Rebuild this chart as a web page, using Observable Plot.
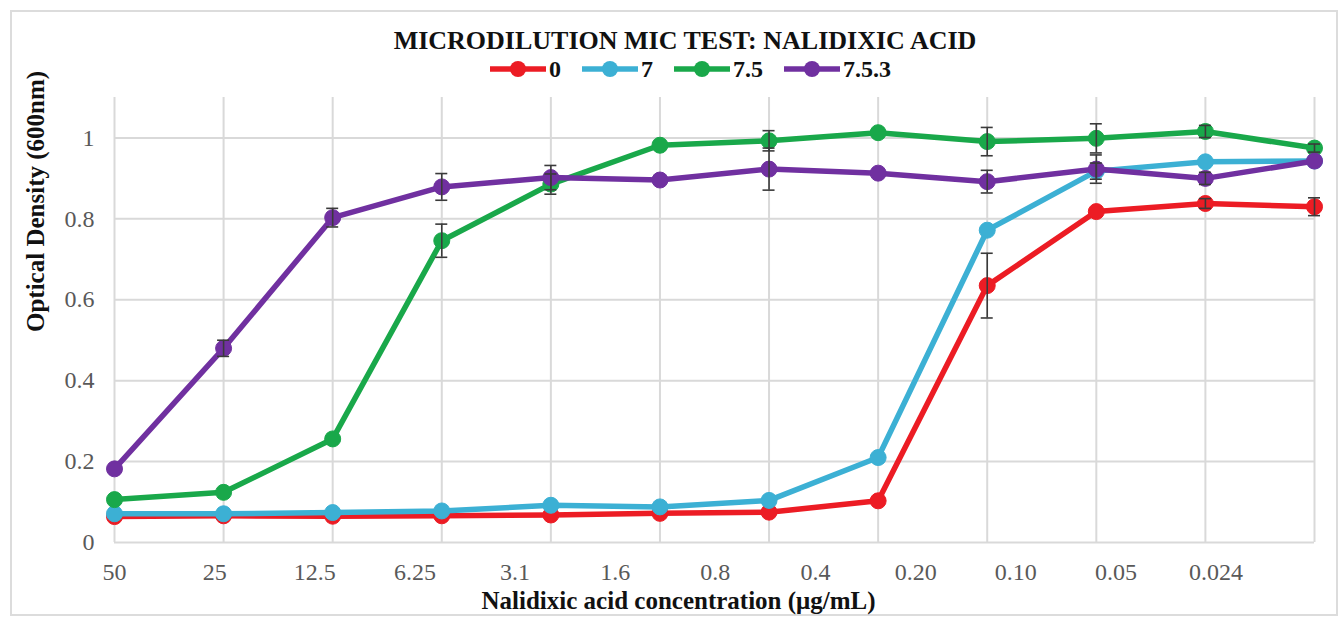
<!DOCTYPE html>
<html>
<head>
<meta charset="utf-8">
<script src="https://cdn.jsdelivr.net/npm/d3@7"></script>
<script src="https://cdn.jsdelivr.net/npm/@observablehq/plot@0.6"></script>
<style>
  html, body { margin: 0; padding: 0; background: #fff; }
  #wrap { position: relative; width: 1343px; height: 620px; overflow: hidden; font-family: "Liberation Serif", serif; }
  #frame { position: absolute; left: 10px; top: 10px; width: 1328px; height: 606px; border: 2px solid #dcdcdc; box-sizing: border-box; }
  #title { position: absolute; left: 0; top: 26px; width: 1370px; text-align: center; font-weight: bold; font-size: 26px; line-height: 30px; color: #111; }
  #legend { position: absolute; left: 0; top: 55px; width: 1380px; display: flex; justify-content: center; gap: 20px; font-weight: bold; font-size: 24px; line-height: 28px; color: #111; }
  .item { display: flex; align-items: center; gap: 2px; }
  #chart { position: absolute; left: 0; top: 0; }
</style>
</head>
<body>
<div id="wrap">
  <div id="frame"></div>
  <div id="chart"></div>
  <div id="title"></div>
  <div id="legend"></div>
</div>
<script>
// ---- data ----
const chartTitle = "MICRODILUTION MIC TEST: NALIDIXIC ACID";
const xTitle = "Nalidixic acid concentration (μg/mL)";
const yTitle = "Optical Density (600nm)";
const concLabels = ["50", "25", "12.5", "6.25", "3.1", "1.6", "0.8", "0.4", "0.20", "0.10", "0.05", "0.024"];
const seriesNames = ["0", "7", "7.5", "7.5.3"];
const seriesColors = ["#ec1c24", "#3cb0d4", "#19a84a", "#7030a0"];
const od0   = [0.064, 0.066, 0.065, 0.066, 0.068, 0.072, 0.075, 0.103, 0.635, 0.818, 0.838, 0.830];
const od7   = [0.071, 0.071, 0.074, 0.078, 0.092, 0.088, 0.104, 0.210, 0.772, 0.918, 0.941, 0.943];
const od75  = [0.106, 0.124, 0.256, 0.746, 0.886, 0.982, 0.993, 1.013, 0.991, 0.999, 1.016, 0.975];
const od753 = [0.182, 0.480, 0.803, 0.879, 0.902, 0.896, 0.923, 0.913, 0.892, 0.923, 0.900, 0.943];
const err0   = [0, 0, 0, 0, 0, 0, 0, 0.005, 0.080, 0.005, 0.012, 0.022];
const err7   = [0, 0, 0, 0, 0, 0, 0, 0.005, 0.005, 0.020, 0.005, 0.005];
const err75  = [0.005, 0.005, 0.005, 0.041, 0.025, 0.005, 0.025, 0.005, 0.035, 0.036, 0.015, 0.010];
const err753 = [0.005, 0.020, 0.023, 0.033, 0.030, 0.005, 0.052, 0.005, 0.028, 0.035, 0.015, 0.005];
const yTicks = [0, 0.2, 0.4, 0.6, 0.8, 1];

// ---- build ----
const values = [od0, od7, od75, od753];
const errs = [err0, err7, err75, err753];
const series = seriesNames.map((name, k) => ({
  name, color: seriesColors[k],
  rows: values[k].map((v, i) => ({ i, v, e: errs[k][i] }))
}));
const labelStep = 0.918; // category labels are spaced slightly tighter than the data points
const tickRows = concLabels.map((label, i) => ({ label, pos: i * labelStep }));
const capHalf = 0.055;

const marks = [
  Plot.gridY({ ticks: yTicks, stroke: "#d9d9d9", strokeOpacity: 1, strokeWidth: 2 }),
  Plot.gridX({ ticks: d3.range(concLabels.length), stroke: "#d9d9d9", strokeOpacity: 1, strokeWidth: 2 }),
  Plot.axisY({ ticks: yTicks, tickSize: 0, tickPadding: 20, tickFormat: d => String(d), label: null }),
  Plot.text(tickRows, { x: "pos", y: () => 0, text: "label", dy: 30, fill: "#595959", lineAnchor: "middle" }),
  Plot.text([yTitle], { frameAnchor: "left", rotate: -90, dx: -79, dy: 12, fontWeight: "bold", fontSize: 25, fill: "#111", lineAnchor: "middle" }),
  Plot.text([xTitle], { frameAnchor: "bottom", dx: -36, dy: 58, fontWeight: "bold", fontSize: 25, fill: "#111", lineAnchor: "middle" })
];
for (const s of series) {
  marks.push(Plot.line(s.rows, { x: "i", y: "v", stroke: s.color, strokeWidth: 5.5, strokeLinejoin: "round" }));
  marks.push(Plot.dot(s.rows, { x: "i", y: "v", r: 8, fill: s.color, stroke: s.color, strokeWidth: 1 }));
}
for (const s of series) {
  const eb = s.rows.filter(d => d.e > 0.009);
  marks.push(Plot.ruleX(eb, { x: "i", y1: d => d.v - d.e, y2: d => d.v + d.e, stroke: "#3a3a3a", strokeWidth: 1.6 }));
  marks.push(Plot.ruleY(eb, { y: d => d.v + d.e, x1: d => d.i - capHalf, x2: d => d.i + capHalf, stroke: "#3a3a3a", strokeWidth: 1.6 }));
  marks.push(Plot.ruleY(eb, { y: d => d.v - d.e, x1: d => d.i - capHalf, x2: d => d.i + capHalf, stroke: "#3a3a3a", strokeWidth: 1.6 }));
}

const chart = Plot.plot({
  width: 1343,
  height: 620,
  marginLeft: 114,
  marginRight: 29,
  marginTop: 97,
  marginBottom: 78,
  x: { type: "linear", domain: [0, concLabels.length - 1], axis: null },
  y: { domain: [0, 1.1], axis: null },
  style: { fontFamily: "Liberation Serif, serif", fontSize: "24px", color: "#595959", background: "transparent" },
  marks
});
document.getElementById("chart").appendChild(chart);

// ---- title & legend ----
document.getElementById("title").textContent = chartTitle;
const legend = document.getElementById("legend");
for (const s of series) {
  const item = document.createElement("div");
  item.className = "item";
  const ns = "http://www.w3.org/2000/svg";
  const sw = document.createElementNS(ns, "svg");
  sw.setAttribute("width", 58); sw.setAttribute("height", 20);
  const ln = document.createElementNS(ns, "line");
  ln.setAttribute("x1", 1); ln.setAttribute("x2", 57); ln.setAttribute("y1", 10); ln.setAttribute("y2", 10);
  ln.setAttribute("stroke", s.color); ln.setAttribute("stroke-width", 5.5);
  const c = document.createElementNS(ns, "circle");
  c.setAttribute("cx", 29); c.setAttribute("cy", 10); c.setAttribute("r", 8); c.setAttribute("fill", s.color);
  sw.appendChild(ln); sw.appendChild(c);
  const t = document.createElement("span");
  t.textContent = s.name;
  item.appendChild(sw); item.appendChild(t);
  legend.appendChild(item);
}
</script>
</body>
</html>
